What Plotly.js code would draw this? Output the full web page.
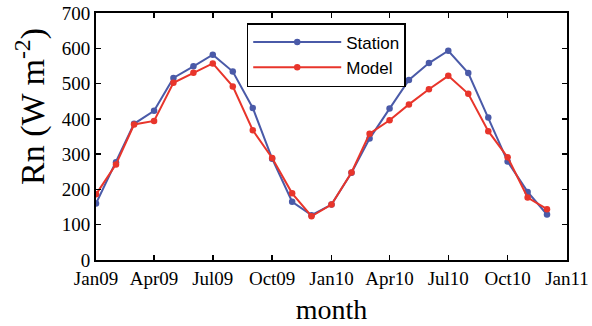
<!DOCTYPE html>
<html>
<head>
<meta charset="utf-8">
<script src="https://cdn.plot.ly/plotly-3.0.1.min.js"></script>
<style>html,body{margin:0;padding:0;background:#fff;}#chart{width:592px;height:326px;}</style>
</head>
<body>
<div id="chart"></div>
<script>
const months = ["2009-01-01","2009-02-01","2009-03-01","2009-04-01","2009-05-01","2009-06-01",
  "2009-07-01","2009-08-01","2009-09-01","2009-10-01","2009-11-01","2009-12-01",
  "2010-01-01","2010-02-01","2010-03-01","2010-04-01","2010-05-01","2010-06-01",
  "2010-07-01","2010-08-01","2010-09-01","2010-10-01","2010-11-01","2010-12-01"];
const station = [160,277,386,423,516,549,582,534,431,287,165,127,157,247,344,429,510,558,593,530,404,279,193,129];
const model   = [186,271,384,394,502,531,557,492,368,289,189,124,157,248,358,396,441,484,522,471,365,291,177,144];
const tickVals = ["2009-01-01","2009-04-01","2009-07-01","2009-10-01","2010-01-01","2010-04-01","2010-07-01","2010-10-01","2011-01-01"];
const tickText = ["Jan09","Apr09","Jul09","Oct09","Jan10","Apr10","Jul10","Oct10","Jan11"];
const yTicks = [0,100,200,300,400,500,600,700];
const xTitle = "month";
const yTitle = "Rn (W m<sup>-2</sup>)";

const serif = "Liberation Serif";
const traces = [
  {x: months, y: station, name: "Station", mode: "lines+markers",
   line: {color: "#4a5aa8", width: 2}, marker: {symbol: "circle", size: 6.5, color: "#4a5aa8"}},
  {x: months, y: model, name: "Model", mode: "lines+markers",
   line: {color: "#e8352b", width: 2}, marker: {symbol: "circle", size: 6.5, color: "#e8352b"}}
];
const axisCommon = {showline: true, linecolor: "#000", linewidth: 2, mirror: "ticks",
  ticks: "inside", ticklen: 5, tickwidth: 1.5, tickcolor: "#000", showgrid: false, zeroline: false};
const layout = {
  width: 592, height: 326,
  margin: {l: 96, r: 25, t: 13, b: 66},
  paper_bgcolor: "#fff", plot_bgcolor: "#fff",
  font: {family: serif, color: "#000"},
  xaxis: Object.assign({}, axisCommon, {
    type: "date", range: ["2009-01-01","2011-01-01"],
    tickmode: "array", tickvals: tickVals, ticktext: tickText,
    tickfont: {family: serif, size: 19, color: "#000"},
    title: {text: xTitle, font: {family: serif, size: 28, color: "#000"}, standoff: 12}
  }),
  yaxis: Object.assign({}, axisCommon, {
    range: [0, 700], tickmode: "array", tickvals: yTicks,
    tickfont: {family: serif, size: 19, color: "#000"}
  }),
  annotations: [{
    text: yTitle, textangle: -90, showarrow: false,
    xref: "paper", yref: "paper", x: (30 - 96) / 471, y: (260 - 107) / 247,
    xanchor: "center", yanchor: "middle",
    font: {family: serif, size: 34, color: "#000"}
  }],
  legend: {x: 0.32, y: (260 - 23) / 247, xanchor: "left", yanchor: "top",
    bordercolor: "#000", borderwidth: 1.5, bgcolor: "#fff",
    font: {family: "Liberation Sans", size: 17, color: "#000"},
    itemwidth: 88, tracegroupgap: 0}
};
Plotly.newPlot("chart", traces, layout, {displayModeBar: false, staticPlot: true});
</script>
</body>
</html>
